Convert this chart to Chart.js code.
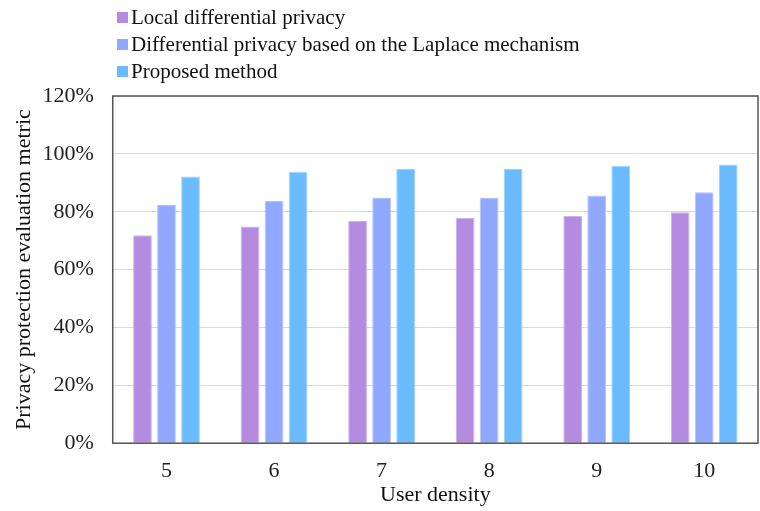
<!DOCTYPE html>
<html>
<head>
<meta charset="utf-8">
<script src="https://cdn.jsdelivr.net/npm/chart.js@4"></script>
<style>
  html, body { margin: 0; padding: 0; background: #fff; }
  #wrap { position: relative; width: 760px; height: 511px; }
  #legend { position: absolute; left: 117px; top: 4px; font-family: "Liberation Serif", serif; font-size: 21px; color: #111; }
  #legend div { height: 27px; line-height: 27px; white-space: nowrap; }
  #legend span.box { display: inline-block; width: 11px; height: 11px; margin-right: 3px; vertical-align: 1px; }
</style>
</head>
<body>
<div id="wrap">
  <canvas id="privacyChart" width="760" height="511"></canvas>
  <div id="legend"></div>
</div>
<script>
const densities = ['5', '6', '7', '8', '9', '10'];
const seriesNames = ['Local differential privacy', 'Differential privacy based on the Laplace mechanism', 'Proposed method'];
const localDP = [71.9, 74.9, 76.8, 77.8, 78.5, 79.8];
const laplaceDP = [82.3, 83.7, 84.9, 84.9, 85.6, 86.7];
const proposed = [92.2, 93.8, 94.8, 94.8, 95.9, 96.3];
const yTicks = [0, 20, 40, 60, 80, 100, 120];

const colors = ['#b48be0', '#90a8fe', '#6bbcfe'];
const edges = ['#cdb0ee', '#b3c3ff', '#9ad2ff'];
const allValues = [localDP, laplaceDP, proposed];

// html legend, one line per series
const legendEl = document.getElementById('legend');
seriesNames.forEach((name, i) => {
  const row = document.createElement('div');
  row.innerHTML = '<span class="box" style="background:' + colors[i] + '"></span>' + name;
  legendEl.appendChild(row);
});

// frame round the plot area
const frame = {
  id: 'frame',
  afterDatasetsDraw(chart) {
    const a = chart.chartArea;
    const c = chart.ctx;
    c.save();
    c.strokeStyle = '#555';
    c.lineWidth = 1.5;
    c.strokeRect(a.left, a.top, a.right - a.left, a.bottom - a.top);
    c.restore();
  }
};

const axisFont = { family: 'Liberation Serif', size: 22 };

const ctx = document.getElementById('privacyChart').getContext('2d');
new Chart(ctx, {
  type: 'bar',
  data: {
    labels: densities,
    datasets: allValues.map((vals, i) => ({
      label: seriesNames[i],
      data: vals,
      backgroundColor: colors[i],
      borderColor: edges[i],
      borderWidth: 1,
      categoryPercentage: 0.67,
      barPercentage: 0.78
    }))
  },
  options: {
    responsive: false,
    animation: false,
    layout: { padding: { top: 96, right: 2, left: 11, bottom: 0 } },
    plugins: {
      legend: { display: false },
      tooltip: { enabled: false }
    },
    scales: {
      y: {
        min: 0,
        max: 120,
        afterBuildTicks: axis => { axis.ticks = yTicks.map(v => ({ value: v })); },
        ticks: {
          callback: v => v + '%',
          font: axisFont,
          color: '#222',
          padding: 19
        },
        grid: { color: '#d9d9d9', drawTicks: false },
        border: { display: false },
        title: {
          display: true,
          text: 'Privacy protection evaluation metric',
          font: axisFont,
          color: '#111',
          padding: { top: 0, bottom: -14 }
        }
      },
      x: {
        ticks: {
          font: axisFont,
          color: '#222',
          padding: 15
        },
        grid: { display: false, drawTicks: false },
        border: { display: false },
        title: {
          display: true,
          text: 'User density',
          font: axisFont,
          color: '#111',
          padding: { top: -18, bottom: 3 }
        }
      }
    }
  },
  plugins: [frame]
});
</script>
</body>
</html>
